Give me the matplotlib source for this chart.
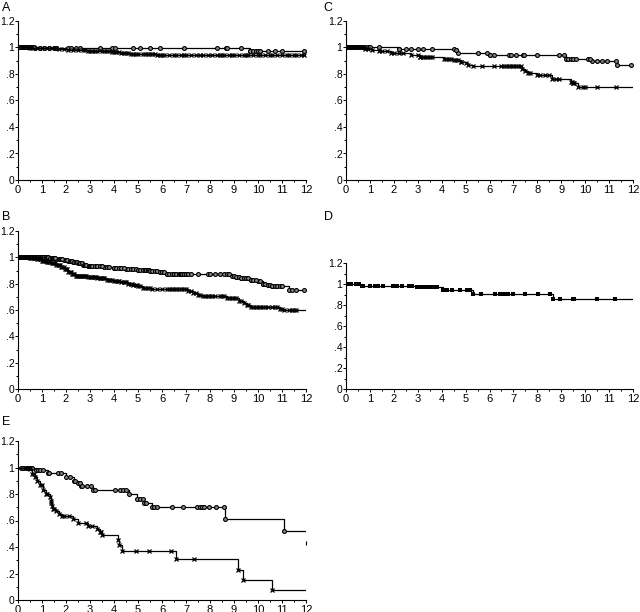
import numpy as np
import matplotlib
matplotlib.use('Agg')
import matplotlib.pyplot as plt
from matplotlib.ticker import MultipleLocator, FixedLocator, FixedFormatter

plt.rcParams['font.family'] = ['Liberation Sans', 'DejaVu Sans']

# ---- panel A ----
a_o_ev_t = [0.7, 9.65]
a_o_ev_s = [0.995, 0.975]
a_o_cens = [0.05, 0.1, 0.15, 0.2, 0.25, 0.3, 0.35, 0.4, 0.45, 0.5, 0.55, 0.6, 0.65, 0.9, 1.1,
            1.3, 1.5, 1.6, 2.1, 2.2, 2.4, 2.6, 3.4, 3.9, 4.05, 4.8, 5.1, 5.5, 5.9, 6.9, 8.3,
            8.65, 8.7, 9.3, 9.65, 9.8, 9.9, 10.0, 10.1, 10.4, 10.7, 11.0, 11.9]
a_x_ev_t = [0.5, 1.7, 2.1, 2.9, 3.9, 4.3, 4.7, 5.8]
a_x_ev_s = [0.995, 0.99, 0.98, 0.975, 0.968, 0.96, 0.95, 0.943]
a_x_cens = [0.2, 0.4, 0.6, 0.8, 1.0, 1.2, 1.4, 1.6, 1.9, 2.3, 2.5, 2.7, 2.8, 3.0, 3.1, 3.2,
            3.3, 3.5, 3.6, 3.7, 3.8, 4.0, 4.1, 4.2, 4.4, 4.5, 4.6, 4.8, 4.9, 5.0, 5.2, 5.3,
            5.4, 5.5, 5.6, 5.7, 5.9, 6.0, 6.1, 6.3, 6.5, 6.6, 6.8, 6.9, 7.0, 7.2, 7.4, 7.6,
            7.7, 7.9, 8.1, 8.3, 8.4, 8.5, 8.6, 8.8, 8.9, 9.0, 9.2, 9.4, 9.5, 9.6, 9.8, 10.0,
            10.1, 10.3, 10.5, 10.6, 10.8, 11.0, 11.2, 11.3, 11.5, 11.6, 11.8, 11.9]

# ---- panel B ----
b_o_ev_t = [1.3, 1.6, 1.9, 2.1, 2.3, 2.5, 2.7, 2.9, 3.6, 4.0, 4.5, 5.0, 5.5, 5.9, 6.2, 6.8,
            8.9, 9.1, 9.3, 9.7, 10.0, 10.2, 10.4, 10.6, 11.3]
b_o_ev_s = [0.995, 0.99, 0.98, 0.975, 0.965, 0.955, 0.945, 0.935, 0.928, 0.92, 0.913, 0.905,
            0.895, 0.885, 0.877, 0.87, 0.86, 0.85, 0.84, 0.83, 0.822, 0.80, 0.79, 0.78, 0.75]
b_o_cens = [0.05, 0.1, 0.15, 0.2, 0.25, 0.3, 0.35, 0.4, 0.45, 0.5, 0.55, 0.6, 0.65, 0.7,
            0.75, 0.8, 0.85, 0.9, 0.95, 1.0, 1.05, 1.1, 1.15, 1.2, 1.25, 1.35, 1.4, 1.45,
            1.5, 1.55, 1.7, 1.75, 1.8, 1.85, 2.0, 2.05, 2.15, 2.2, 2.25, 2.35, 2.4, 2.45,
            2.55, 2.6, 2.65, 2.75, 2.8, 2.85, 2.95, 3.0, 3.05, 3.1, 3.2, 3.3, 3.4, 3.5,
            3.7, 3.8, 4.0, 4.1, 4.2, 4.3, 4.4, 4.6, 4.7, 4.8, 4.9, 5.0, 5.1, 5.2, 5.3, 5.35,
            5.4, 5.45, 5.5, 5.6, 5.7, 5.8, 5.9, 6.0, 6.1, 6.2, 6.3, 6.4, 6.5, 6.6, 6.7, 6.75,
            6.8, 6.85, 6.9, 7.0, 7.1, 7.2, 7.5, 7.9, 8.0, 8.2, 8.4, 8.6, 8.7, 8.8, 9.0, 9.1,
            9.2, 9.3, 9.4, 9.5, 9.6, 9.7, 9.8, 9.9, 10.1, 10.2, 10.3, 10.4, 10.5, 10.6,
            10.7, 10.8, 10.9, 11.0, 11.4, 11.6, 11.9]
b_x_ev_t = [0.5, 0.8, 1.0, 1.2, 1.4, 1.6, 1.8, 1.95, 2.1, 2.25, 2.4, 2.9, 3.3, 3.7, 4.0,
            4.3, 4.6, 4.8, 5.0, 5.2, 5.6, 7.1, 7.3, 7.5, 7.7, 8.7, 9.2, 9.4, 9.55, 9.7,
            10.9, 11.1]
b_x_ev_s = [0.995, 0.985, 0.975, 0.965, 0.955, 0.94, 0.925, 0.91, 0.89, 0.875, 0.86, 0.85,
            0.84, 0.83, 0.82, 0.81, 0.80, 0.79, 0.78, 0.765, 0.757, 0.745, 0.73, 0.715,
            0.705, 0.69, 0.67, 0.655, 0.64, 0.62, 0.607, 0.597]
b_x_cens = [0.05, 0.1, 0.15, 0.2, 0.25, 0.3, 0.35, 0.4, 0.45, 0.55, 0.6, 0.65, 0.7, 0.75,
            0.85, 0.9, 0.95, 1.05, 1.1, 1.15, 1.25, 1.3, 1.35, 1.45, 1.5, 1.55, 1.65, 1.7,
            1.75, 1.85, 1.9, 2.0, 2.05, 2.15, 2.2, 2.3, 2.35, 2.45, 2.5, 2.55, 2.6, 2.65,
            2.7, 2.75, 2.8, 2.85, 3.0, 3.05, 3.1, 3.15, 3.2, 3.25, 3.4, 3.45, 3.5, 3.55, 3.6,
            3.8, 3.85, 3.9, 4.1, 4.15, 4.2, 4.4, 4.45, 4.5, 4.7, 4.75, 4.9, 4.95, 5.1, 5.3,
            5.4, 5.5, 5.8, 6.0, 6.2, 6.3, 6.4, 6.5, 6.6, 6.7, 6.8, 6.9, 7.0, 7.2, 7.4, 7.6,
            7.8, 7.9, 8.0, 8.1, 8.2, 8.4, 8.5, 8.6, 8.8, 8.9, 9.0, 9.1, 9.3, 9.6, 9.8,
            9.9, 10.0, 10.1, 10.2, 10.3, 10.4, 10.6, 10.7, 10.8, 11.0, 11.3, 11.4, 11.5,
            11.6]

# ---- panel C ----
c_o_ev_t = [2.2, 4.6, 4.7, 6.0, 9.2, 10.3, 11.35]
c_o_ev_s = [0.99, 0.98, 0.96, 0.94, 0.915, 0.895, 0.87]
c_o_cens = [0.05, 0.1, 0.15, 0.2, 0.3, 0.4, 0.5, 0.6, 0.7, 0.8, 0.9, 1.0, 1.4, 2.2, 2.5,
            2.7, 3.0, 3.2, 3.6, 4.5, 4.6, 5.5, 5.9, 6.0, 6.2, 6.8, 6.9, 7.1, 7.4, 7.45, 8.0,
            8.9, 9.1, 9.3, 9.4, 9.5, 9.6, 10.1, 10.2, 10.5, 10.7, 10.9, 11.3, 11.9]
c_x_ev_t = [0.8, 1.1, 1.4, 1.9, 2.7, 3.1, 4.1, 4.5, 4.8, 5.0, 5.1, 5.3, 7.35, 7.5, 7.6, 8.0,
            8.6, 9.4, 9.5, 9.7]
c_x_ev_s = [0.99, 0.98, 0.97, 0.955, 0.94, 0.93, 0.915, 0.905, 0.89, 0.88, 0.87, 0.86, 0.84,
            0.82, 0.805, 0.79, 0.765, 0.74, 0.73, 0.70]
c_x_cens = [0.1, 0.2, 0.3, 0.4, 0.5, 0.6, 0.7, 0.9, 1.5, 1.7, 2.0, 2.2, 2.4, 3.0, 3.1, 3.2,
            3.3, 3.4, 3.5, 3.6, 4.2, 4.3, 4.4, 4.6, 4.7, 4.8, 5.7, 6.2, 6.5, 6.6, 6.7, 6.8,
            6.9, 7.0, 7.1, 7.2, 7.3, 7.7, 8.1, 8.3, 8.5, 8.8, 8.9, 9.45, 9.5, 9.55, 9.9, 10.0,
            10.5, 11.3]

# ---- panel D ----
d_ev_t = [0.65, 2.95, 4.07, 5.32, 8.64]
d_ev_s = [0.984, 0.968, 0.946, 0.908, 0.857]
d_cens = [0.05, 0.2, 0.4, 0.55, 0.72, 0.99, 1.21, 1.35, 1.56, 1.98, 2.12, 2.33, 2.65, 2.75,
          3.0, 3.16, 3.3, 3.4, 3.51, 3.65, 3.82, 4.21, 4.42, 4.77, 5.05, 5.2, 5.66, 6.23,
          6.44, 6.58, 6.72, 6.79, 7.0, 7.48, 8.04, 8.53, 8.95, 9.5, 9.53, 10.48, 11.24]

# ---- panel E ----
e_o_ev_t = [0.75, 1.23, 2.0, 2.34, 2.5, 2.64, 3.13, 4.62, 4.97, 5.25, 5.57, 8.61, 11.09]
e_o_ev_s = [0.98, 0.96, 0.93, 0.90, 0.88, 0.86, 0.83, 0.80, 0.765, 0.734, 0.70, 0.61, 0.52]
e_o_cens = [0.12, 0.22, 0.33, 0.4, 0.52, 0.6, 0.84, 0.92, 1.03, 1.3, 1.65, 1.79, 2.16, 2.37,
            2.57, 2.67, 2.87, 3.03, 3.21, 4.04, 4.25, 4.39, 4.49, 5.1, 5.2, 5.33, 5.66, 5.8,
            6.42, 6.88, 7.46, 7.57, 7.67, 7.77, 7.95, 8.26, 8.57]
e_x_ev_t = [0.5, 0.6, 0.7, 0.8, 0.9, 1.05, 1.16, 1.34, 1.36, 1.38, 1.4, 1.44, 1.58, 1.72,
            1.85, 2.31, 2.5, 2.92, 3.31, 3.42, 3.52, 4.17, 4.22, 4.35, 6.59, 9.15, 9.37, 10.58]
e_x_ev_s = [0.99, 0.95, 0.93, 0.90, 0.87, 0.83, 0.80, 0.78, 0.75, 0.73, 0.71, 0.69,
            0.67, 0.65, 0.636, 0.611, 0.584, 0.558, 0.533, 0.51, 0.49, 0.453, 0.415, 0.37,
            0.307, 0.226, 0.151, 0.072]
e_x_cens = [0.3, 0.45, 0.65, 1.0, 1.2, 1.5, 1.92, 2.13, 2.82, 3.1, 3.45, 4.9, 5.45, 6.38, 7.35]
e_extra_t = [12.0]
e_extra_s = [0.43]

ytick_vals = [0, 0.2, 0.4, 0.6, 0.8, 1.0, 1.2]
ytick_text = ['0', '.2', '.4', '.6', '.8', '1', '1.2']


def surv_at(t, ev_t, ev_s):
    idx = np.searchsorted(ev_t, t, side='right')
    return np.r_[1.0, ev_s][idx]


def km(ax, ev_t, ev_s, cens, marker):
    ev_t = np.asarray(ev_t)
    ev_s = np.asarray(ev_s)
    xs = np.r_[0, ev_t, 12]
    ys = np.r_[1.0, ev_s, ev_s[-1]]
    ax.step(xs, ys, where='post', color='black', lw=0.9)
    tm = np.r_[ev_t, cens]
    if marker == 'o':
        ax.plot(tm, surv_at(tm, ev_t, ev_s), ls='none', marker='o', ms=2.8,
                mfc='#8a8a8a', mec='black', mew=0.8)
    elif marker == 'x':
        ax.plot(tm, surv_at(tm, ev_t, ev_s), ls='none', marker='x', ms=3.4,
                color='black', mew=0.9)
    else:
        ax.plot(tm, surv_at(tm, ev_t, ev_s), ls='none', marker='s', ms=2.2,
                color='black', mew=0)


def style(ax):
    ax.set_xlim(0, 12)
    ax.set_ylim(0, 1.2)
    for s in ['top', 'right']:
        ax.spines[s].set_visible(False)
    ax.spines['left'].set_linewidth(0.8)
    ax.spines['bottom'].set_linewidth(0.8)
    ax.xaxis.set_major_locator(MultipleLocator(1))
    ax.xaxis.set_minor_locator(MultipleLocator(0.5))
    ax.yaxis.set_major_locator(FixedLocator(ytick_vals))
    ax.yaxis.set_major_formatter(FixedFormatter(ytick_text))
    ax.yaxis.set_minor_locator(MultipleLocator(0.1))
    ax.tick_params(which='both', direction='out', width=0.7)
    ax.tick_params(which='major', length=2)
    ax.tick_params(which='minor', length=1.6)
    ax.tick_params(axis='x', labelsize=8, pad=1.5)
    ax.tick_params(axis='y', labelsize=7.5, pad=0.5)


fig = plt.figure(figsize=(6.4, 6.12), dpi=100)
W, H = 640, 612


def add_axes(x0, x1, ytop, ybot):
    return fig.add_axes([x0 / W, (H - ybot) / H, (x1 - x0) / W, (ybot - ytop) / H])


axA = add_axes(18, 306, 21, 180)
axC = add_axes(346, 633, 21, 180)
axB = add_axes(18, 306, 231, 389)
axD = add_axes(346, 633, 263, 389)
axE = add_axes(18, 306, 441, 600)

km(axA, a_o_ev_t, a_o_ev_s, a_o_cens, 'o')
km(axA, a_x_ev_t, a_x_ev_s, a_x_cens, 'x')
km(axB, b_o_ev_t, b_o_ev_s, b_o_cens, 'o')
km(axB, b_x_ev_t, b_x_ev_s, b_x_cens, 'x')
km(axC, c_o_ev_t, c_o_ev_s, c_o_cens, 'o')
km(axC, c_x_ev_t, c_x_ev_s, c_x_cens, 'x')
km(axD, d_ev_t, d_ev_s, d_cens, 's')
km(axE, e_o_ev_t, e_o_ev_s, e_o_cens, 'o')
km(axE, e_x_ev_t, e_x_ev_s, e_x_cens, 'x')
axE.plot(e_extra_t, e_extra_s, ls='none', marker='|', ms=3, color='black', mew=0.8,
         clip_on=False)

for ax in [axA, axB, axC, axD, axE]:
    style(ax)

for lab, px, py in [('A', 2, 8), ('B', 2, 217), ('C', 323, 8), ('D', 324, 217), ('E', 2, 422)]:
    fig.text(px / W, 1 - py / H, lab, fontsize=9, ha='left', va='center')

fig.savefig('out.png', dpi=100)
